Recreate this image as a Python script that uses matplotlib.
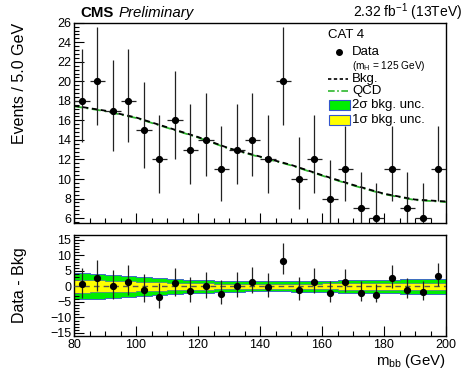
import math
import numpy as np
import matplotlib
matplotlib.use("Agg")
import matplotlib.pyplot as plt
from matplotlib.ticker import MultipleLocator
from matplotlib.patches import Rectangle
from matplotlib.lines import Line2D

plt.rcParams["font.family"] = ["Liberation Sans", "DejaVu Sans"]
plt.rcParams["mathtext.fontset"] = "custom"
plt.rcParams["mathtext.rm"] = "Liberation Sans"
plt.rcParams["mathtext.it"] = "Liberation Sans:italic"

# data: events per 5 GeV bin
bin_edges = np.arange(80, 205, 5)
bin_centers = bin_edges[:-1] + 2.5
counts = [18, 20, 17, 18, 15, 12, 16, 13, 14, 11, 13, 14,
          12, 20, 10, 12, 8, 11, 7, 6, 11, 7, 6, 11]

# background fit curve
bkg_x = [80, 90, 100, 110, 120, 130, 140, 150, 160, 170, 180, 190, 200]
bkg_y = [17.5, 17.0, 16.3, 15.3, 14.3, 13.15, 12.3, 11.45, 10.4, 9.4, 8.5, 7.9, 7.7]
qcd_y = [17.45, 16.95, 16.25, 15.25, 14.25, 13.1, 12.25, 11.4, 10.35, 9.35, 8.45, 7.85, 7.65]

# 1 sigma bkg uncertainty per bin (2 sigma band is twice this)
sig1 = [2.1, 1.95, 1.8, 1.65, 1.5, 1.35, 1.2, 1.1, 1.0, 0.9, 0.85, 0.8,
        0.8, 0.8, 0.85, 0.9, 0.95, 1.0, 1.05, 1.1, 1.1, 1.15, 1.2, 1.2]


def pois_cdf(k, mu):
    term = math.exp(-mu)
    s = term
    for i in range(1, k + 1):
        term *= mu / i
        s += term
    return s


def garwood(n):
    a = 0.1587
    # upper: P(X<=n | u) = a
    lo, hi = n, n + 10 * math.sqrt(n + 1) + 10
    for _ in range(60):
        mid = 0.5 * (lo + hi)
        if pois_cdf(n, mid) > a:
            lo = mid
        else:
            hi = mid
    up = 0.5 * (lo + hi)
    if n == 0:
        return 0.0, up
    # lower: P(X>=n | l) = a
    lo, hi = 0.0, n
    for _ in range(60):
        mid = 0.5 * (lo + hi)
        if 1 - pois_cdf(n - 1, mid) < a:
            lo = mid
        else:
            hi = mid
    return 0.5 * (lo + hi), up


errs = [garwood(n) for n in counts]
err_lo = np.array([n - e[0] for n, e in zip(counts, errs)])
err_hi = np.array([e[1] - n for n, e in zip(counts, errs)])

resid = np.array(counts) - np.interp(bin_centers, bkg_x, bkg_y)
sig1 = np.array(sig1)

W, H = 464, 374
fig = plt.figure(figsize=(W / 100, H / 100), dpi=100)


def fx(x):
    return x / W


def fy(y):
    return 1 - y / H


ax1 = fig.add_axes([fx(74), fy(223), fx(446) - fx(74), fy(22.7) - fy(223)])
ax2 = fig.add_axes([fx(74), fy(335.7), fx(446) - fx(74), fy(235) - fy(335.7)])

# top panel
ax1.plot(bkg_x, qcd_y, color="#2db82d", lw=1.3, ls=(0, (5, 2, 1, 2)), zorder=2)
ax1.plot(bkg_x, bkg_y, color="black", lw=1.3, ls=(0, (3, 2)), zorder=3)
ax1.errorbar(bin_centers, counts, yerr=[err_lo, err_hi], xerr=2.5, fmt="o",
             color="black", ms=4.2, elinewidth=0.9, ecolor="#222222",
             capsize=0, zorder=4)
ax1.set_xlim(80, 200)
ax1.set_ylim(5.5, 26)
ax1.set_yticks(np.arange(6, 27, 2))
ax1.yaxis.set_minor_locator(MultipleLocator(0.4))
ax1.tick_params(labelbottom=False)
ax1.set_ylabel("Events / 5.0 GeV", fontsize=11.5, ha="right")
ax1.yaxis.set_label_coords((27 - 74) / 372, 1.0)

# bottom panel
sig1_step = np.append(sig1, sig1[-1])
ax2.fill_between(bin_edges, -2 * sig1_step, 2 * sig1_step, step="post",
                 facecolor="#00ee00", edgecolor="#3355cc", lw=0.6, zorder=1)
ax2.fill_between(bin_edges, -sig1_step, sig1_step, step="post",
                 facecolor="#ffff00", edgecolor="#3355cc", lw=0.4, zorder=2)
ax2.axhline(0, color="#555555", lw=1.0, ls=(0, (4, 3)), zorder=3)
ax2.errorbar(bin_centers, resid, yerr=[err_lo, err_hi], fmt="o",
             color="black", ms=4.2, elinewidth=0.9, ecolor="#222222",
             capsize=0, zorder=4)
ax2.set_xlim(80, 200)
ax2.set_ylim(-15.9, 16.6)
ax2.set_yticks(np.arange(-15, 16, 5))
ax2.yaxis.set_minor_locator(MultipleLocator(1))
ax2.set_ylabel("Data - Bkg", fontsize=11.5)
ax2.yaxis.set_label_coords((27 - 74) / 372, 0.5)

for ax in (ax1, ax2):
    ax.xaxis.set_major_locator(MultipleLocator(20))
    ax.xaxis.set_minor_locator(MultipleLocator(5))
    ax.tick_params(which="both", direction="in", top=False, right=False,
                   labelsize=9, pad=2)
    ax.tick_params(which="major", length=7, width=0.8)
    ax.tick_params(which="minor", length=3.5, width=0.8)
    for sp in ax.spines.values():
        sp.set_linewidth(1.0)
ax2.tick_params(axis="x", pad=2.5)

fig.text(fx(446), fy(364.5), r"m$_{\mathregular{bb}}$ (GeV)", fontsize=10.8,
         ha="right", va="baseline")

# header
fig.text(fx(80), fy(17), "CMS", fontsize=10.8, fontweight="bold", va="baseline")
fig.text(fx(119), fy(17), "Preliminary", fontsize=10.8, style="italic", va="baseline")
fig.text(fx(462), fy(17), r"2.32 fb$^{\mathregular{-1}}$ (13TeV)", fontsize=10,
         ha="right", va="baseline")

# legend
fs = 9.5
fig.text(fx(328), fy(35), "CAT 4", fontsize=fs, va="center")
fig.add_artist(Line2D([fx(339)], [fy(52)], marker="o", ms=4, color="black"))
fig.text(fx(352), fy(52), "Data", fontsize=fs, va="center")
fig.text(fx(352), fy(66), r"(m$_{\mathregular{H}}$ = 125 GeV)", fontsize=7.3, va="center")
fig.add_artist(Line2D([fx(328), fx(348)], [fy(79), fy(79)], color="black",
                      lw=1.2, ls=(0, (2, 1.5))))
fig.text(fx(352), fy(79), "Bkg.", fontsize=fs, va="center")
fig.add_artist(Line2D([fx(328), fx(348)], [fy(91), fy(91)], color="#2db82d",
                      lw=1.2, ls=(0, (4, 1.5, 1, 1.5))))
fig.text(fx(352), fy(91), "QCD", fontsize=fs, va="center")
fig.add_artist(Rectangle((fx(329), fy(109.5)), fx(350) - fx(329), fy(100) - fy(109.5),
                         facecolor="#00ee00", edgecolor="#3355cc", lw=0.8,
                         transform=fig.transFigure))
fig.text(fx(352), fy(105), "2σ bkg. unc.", fontsize=fs, va="center")
fig.add_artist(Rectangle((fx(329), fy(124.5)), fx(350) - fx(329), fy(115) - fy(124.5),
                         facecolor="#ffff00", edgecolor="#3355cc", lw=0.8,
                         transform=fig.transFigure))
fig.text(fx(352), fy(120), "1σ bkg. unc.", fontsize=fs, va="center")

fig.savefig("out.png", dpi=100)
